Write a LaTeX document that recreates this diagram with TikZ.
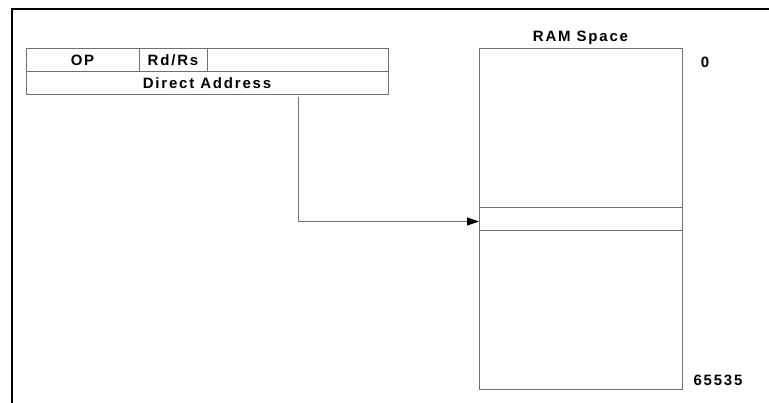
\documentclass[tikz,border=0pt]{standalone}
\usepackage{fontspec}
\setmainfont{Liberation Sans}[LetterSpace=12]
\usetikzlibrary{positioning,arrows.meta}
\definecolor{colLine}{RGB}{112,112,112}

\begin{document}
\begin{tikzpicture}[
  x=1pt, y=-1pt,
  font=\fontsize{15}{17}\selectfont\bfseries,
  field/.style={rectangle, draw=colLine, line width=1pt, minimum height=23pt,
    inner sep=0pt, outer sep=0pt, anchor=west},
  mem/.style={rectangle, draw=colLine, line width=1pt, minimum width=203pt,
    inner sep=0pt, outer sep=0pt},
  frame/.style={line width=2.4pt, black},
  arr/.style={-{Triangle[length=12pt,width=8pt,color=black]}, line width=1pt, colLine}]
  \useasboundingbox (0,0) rectangle (769,403);
  % outer frame (top and left only)
  \draw[frame] (12,403) -- (12,9) -- (769,9);
  % instruction word
  \node[field, minimum width=113pt] (op) at (26,60.5) {OP};
  \node[field, minimum width=68pt, right=0pt of op] (rd) {Rd/Rs};
  \node[field, minimum width=181pt, right=0pt of rd] (unused) {};
  \node[field, minimum width=362pt, below=0pt of op.south west, anchor=north west] (addr) {Direct Address};
  % memory
  \node[mem, minimum height=341pt] (ram) at (580.5,219.5) {};
  \node[mem, minimum height=23pt] (slot) at (ram.center) {};
  \node[above=1pt of ram] (title) {RAM Space};
  \node[anchor=center] (low) at (705,62) {0};
  \node[anchor=center] (high) at (718,380) {65535};
  \coordinate (tap) at (298,97);
  \draw[arr] (tap) |- ([yshift=-2pt]slot.west);
\end{tikzpicture}
\end{document}
